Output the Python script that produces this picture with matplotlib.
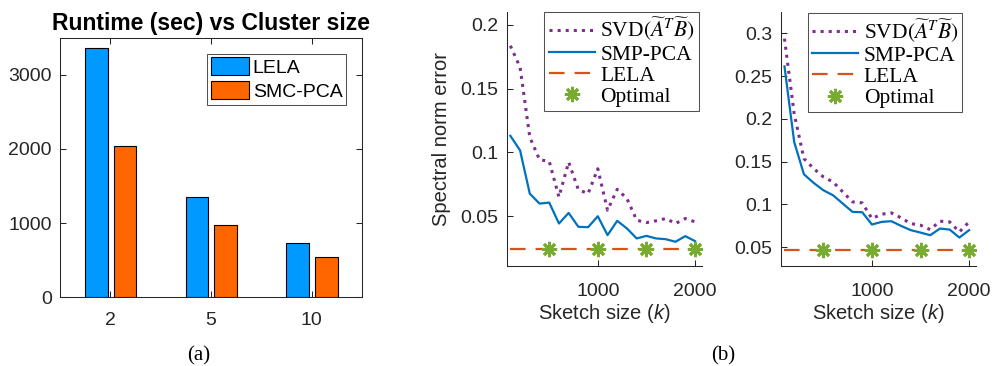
import numpy as np
import matplotlib
matplotlib.use("Agg")
import matplotlib.pyplot as plt
from matplotlib.font_manager import FontProperties

plt.rcParams['font.family'] = ['Liberation Sans', 'DejaVu Sans']
plt.rcParams['mathtext.fontset'] = 'custom'
plt.rcParams['mathtext.rm'] = 'Liberation Sans'
plt.rcParams['mathtext.it'] = 'Liberation Sans:italic'
plt.rcParams['axes.linewidth'] = 0.75

# --- data: (a) runtime vs cluster size ---
cluster_sizes = ['2', '5', '10']
runtime_lela = [3365, 1351, 730]
runtime_smc = [2045, 970, 540]

# --- data: (b) spectral norm error vs sketch size ---
sketch_k = list(range(100, 2001, 100))
svd_left = [0.1836, 0.1667, 0.112, 0.0943, 0.093, 0.0651, 0.0924, 0.0708, 0.0677, 0.0872,
            0.0547, 0.0711, 0.0638, 0.0469, 0.045, 0.0464, 0.0482, 0.0443, 0.0482, 0.0456]
smp_left = [0.113, 0.1016, 0.0677, 0.0599, 0.0607, 0.0443, 0.0526, 0.0417, 0.0414, 0.050,
            0.0352, 0.0464, 0.0404, 0.0326, 0.0346, 0.0326, 0.032, 0.030, 0.0344, 0.0305]
lela_left = 0.024
svd_right = [0.2938, 0.206, 0.1536, 0.142, 0.1322, 0.1263, 0.1146, 0.103, 0.1018, 0.0835,
             0.0886, 0.0901, 0.0843, 0.0776, 0.0757, 0.0706, 0.0804, 0.0796, 0.0679, 0.0796]
smp_right = [0.2614, 0.173, 0.1353, 0.1252, 0.1166, 0.1107, 0.101, 0.0913, 0.0909, 0.0765,
             0.0796, 0.0804, 0.0749, 0.0699, 0.0671, 0.064, 0.0718, 0.0706, 0.0613, 0.0699]
lela_right = 0.047
optimal_k = [500, 1000, 1500, 2000]

AX_COLOR = '#262626'
C_SVD = '#7E2F8E'
C_SMP = '#0072BD'
C_LELA = '#D95319'
C_OPT = '#77AC30'

fig = plt.figure(figsize=(9.95, 3.66), dpi=100)

# ---------------- (a) ----------------
ax = fig.add_axes([0.0603, 0.1885, 0.3035, 0.7077])
pos = np.arange(len(cluster_sizes))
ax.bar(pos - 0.14, runtime_lela, width=0.225, color='#0099FF', edgecolor='black',
       linewidth=0.8, label='LELA')
ax.bar(pos + 0.145, runtime_smc, width=0.225, color='#FF6600', edgecolor='black',
       linewidth=0.8, label='SMC-PCA')
ax.set_xlim(-0.5, 2.5)
ax.set_ylim(0, 3500)
ax.set_xticks(pos)
ax.set_xticklabels(cluster_sizes)
ax.set_yticks([0, 1000, 2000, 3000])
ax.tick_params(direction='in', top=True, right=True, labelsize=14, colors=AX_COLOR,
               length=4, width=0.75)
ax.tick_params(axis='y', pad=6)
ax.tick_params(axis='x', pad=11)
for s in ax.spines.values():
    s.set_color(AX_COLOR)
ax.set_title('Runtime (sec) vs Cluster size', fontsize=16.5, fontweight='bold', pad=6)
leg = ax.legend(loc='upper right', fontsize=14, handlelength=1.95, handleheight=1.05,
                handletextpad=0.2, labelspacing=0.2, borderpad=0.2, borderaxespad=0.8,
                fancybox=False, edgecolor=AX_COLOR)
leg.get_frame().set_linewidth(0.75)
fig.text(0.2, 0.015, '(a)', fontsize=15, family='Liberation Serif', ha='center')


# ---------------- (b) ----------------
def error_panel(rect, svd, smp, lela, ylim, yticks, ytick_labels, legend_anchor):
    ax = fig.add_axes(rect)
    ax.plot(sketch_k, svd, linestyle=':', color=C_SVD, linewidth=2.2,
            label=r'SVD$(\widetilde{A}^T\widetilde{B})$')
    ax.plot(sketch_k, smp, linestyle='-', color=C_SMP, linewidth=1.6, label='SMP-PCA')
    ax.plot([sketch_k[0], sketch_k[-1]], [lela, lela], linestyle=(0, (7, 4.5)),
            color=C_LELA, linewidth=1.6, label='LELA')
    ax.plot(optimal_k, [lela] * len(optimal_k), linestyle='none', marker=(8, 2, 0),
            markersize=11, markeredgewidth=2, color=C_OPT, label='Optimal')
    ax.set_xlim(65, 2072)
    ax.set_ylim(*ylim)
    ax.set_xticks([1000, 2000])
    ax.set_yticks(yticks)
    ax.set_yticklabels(ytick_labels)
    ax.spines['top'].set_visible(False)
    ax.spines['right'].set_visible(False)
    for s in ax.spines.values():
        s.set_color(AX_COLOR)
    ax.tick_params(direction='in', labelsize=14, colors=AX_COLOR, length=4, width=0.75)
    ax.tick_params(axis='y', pad=6)
    ax.tick_params(axis='x', pad=12)
    ax.set_xlabel('Sketch size ($k$)', fontsize=14.5, color=AX_COLOR, labelpad=2)
    prop = FontProperties(family='Liberation Serif', size=15.5, math_fontfamily='stix')
    leg = ax.legend(loc='upper right', bbox_to_anchor=legend_anchor, prop=prop,
                    handlelength=2.15, handletextpad=0.25, labelspacing=0.05,
                    borderpad=0.2, borderaxespad=0, fancybox=False, edgecolor=AX_COLOR)
    leg.get_frame().set_linewidth(0.75)
    return ax


ax1 = error_panel([0.5095, 0.2732, 0.196, 0.694], svd_left, smp_left, lela_left,
                  (0.011, 0.21), [0.05, 0.1, 0.15, 0.2], ['0.05', '0.1', '0.15', '0.2'],
                  (0.985, 1.0))
ax1.set_ylabel('Spectral norm error', fontsize=14.5, color=AX_COLOR, labelpad=7)

ax2 = error_panel([0.785, 0.2732, 0.196, 0.694], svd_right, smp_right, lela_right,
                  (0.028, 0.325), [0.05, 0.1, 0.15, 0.2, 0.25, 0.3],
                  ['0.05', '0.1', '0.15', '0.2', '0.25', '0.3'], (0.93, 0.995))

fig.text(0.727, 0.015, '(b)', fontsize=15, family='Liberation Serif', ha='center')

fig.savefig('out.png', dpi=100)
